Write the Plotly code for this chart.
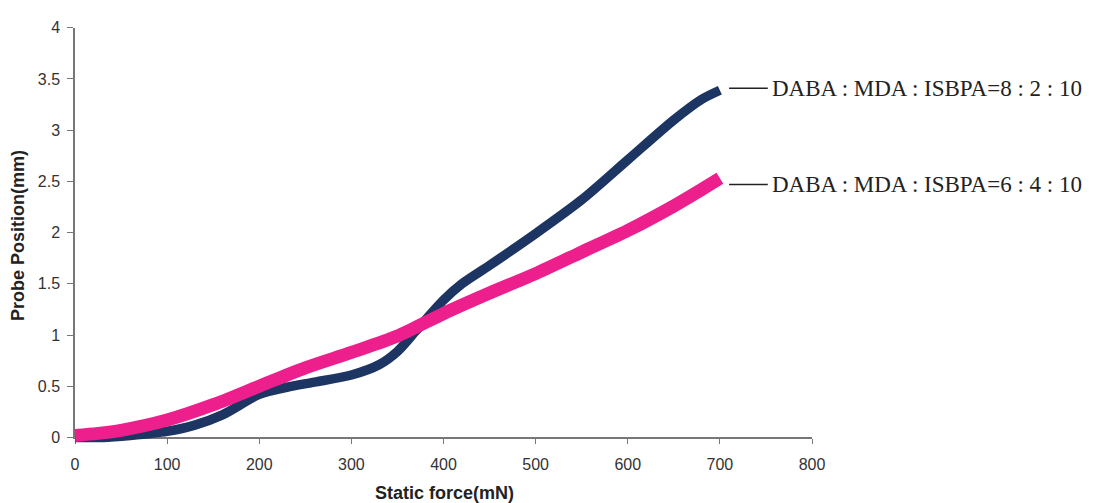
import plotly.graph_objects as go

# Static force (mN) vs probe position (mm)
force_82 = [0, 30, 60, 100, 130, 160, 200, 230, 260, 300, 330, 350, 370, 400, 420, 450, 500, 550, 600, 650, 680, 700]
pos_82 = [0.0, 0.0, 0.02, 0.06, 0.12, 0.22, 0.42, 0.49, 0.54, 0.61, 0.71, 0.84, 1.04, 1.34, 1.5, 1.68, 1.99, 2.32, 2.71, 3.1, 3.3, 3.39]

force_64 = [0, 25, 50, 100, 150, 200, 250, 300, 350, 400, 450, 500, 550, 600, 650, 680, 700]
pos_64 = [0.02, 0.04, 0.07, 0.17, 0.32, 0.5, 0.68, 0.83, 0.99, 1.21, 1.41, 1.6, 1.81, 2.02, 2.26, 2.42, 2.53]

labels = ["DABA : MDA : ISBPA=8 : 2 : 10", "DABA : MDA : ISBPA=6 : 4 : 10"]
label_y = [3.41, 2.47]

x_ticks = [0, 100, 200, 300, 400, 500, 600, 700, 800]
y_ticks = [0, 0.5, 1, 1.5, 2, 2.5, 3, 3.5, 4]
y_tick_text = ["0", "0.5", "1", "1.5", "2", "2.5", "3", "3.5", "4"]

W, H = 1094, 503
ML, MR, MT, MB = 40, 40, 5, 40
PW, PH = W - ML - MR, H - MT - MB

# plot frame in pixels
left_px, right_px, top_px, bottom_px = 75, 812, 20, 437
XMIN, XMAX, YMIN, YMAX = 0, 800, 0, 4
pad = 15  # lets thick lines overrun the axes

def xdom(px):
    return (px - ML) / PW

def ydom(py):
    return (H - MB - py) / PH

xs = (right_px - left_px) / (XMAX - XMIN)
ys = (bottom_px - top_px) / (YMAX - YMIN)

fig = go.Figure()

# empty trace so the visible axes are drawn
fig.add_trace(go.Scatter(x=[], y=[], xaxis="x", yaxis="y", showlegend=False))

fig.add_trace(go.Scatter(
    x=force_82, y=pos_82, mode="lines", xaxis="x2", yaxis="y2",
    line=dict(color="#1d3563", width=9.5, shape="spline", smoothing=0.8),
    showlegend=False, hoverinfo="skip"))
fig.add_trace(go.Scatter(
    x=force_64, y=pos_64, mode="lines", xaxis="x2", yaxis="y2",
    line=dict(color="#ec1f8d", width=13, shape="spline", smoothing=0.8),
    showlegend=False, hoverinfo="skip"))

axis_font = dict(family="Arial, Liberation Sans, sans-serif", size=16, color="#333333")

fig.update_layout(
    width=W, height=H,
    margin=dict(l=ML, r=MR, t=MT, b=MB),
    paper_bgcolor="white", plot_bgcolor="rgba(0,0,0,0)",
    xaxis=dict(domain=[xdom(left_px), xdom(right_px)], range=[XMIN, XMAX],
               tickvals=x_ticks, ticks="outside", ticklen=5, tickcolor="#777",
               showline=True, linecolor="#777", linewidth=1.5, showgrid=False,
               zeroline=False, tickfont=axis_font, ticklabelstandoff=7,
               anchor="y", fixedrange=True),
    yaxis=dict(domain=[ydom(bottom_px), ydom(top_px)], range=[YMIN, YMAX],
               tickvals=y_ticks, ticktext=y_tick_text, ticks="outside", ticklen=6,
               tickcolor="#777", showline=True, linecolor="#777", linewidth=1.5,
               showgrid=False, zeroline=False, tickfont=axis_font,
               ticklabelstandoff=4, anchor="x", fixedrange=True),
    xaxis2=dict(domain=[xdom(left_px - pad), xdom(right_px + pad)],
                range=[XMIN - pad / xs, XMAX + pad / xs], visible=False,
                anchor="y2", fixedrange=True),
    yaxis2=dict(domain=[ydom(bottom_px + pad), ydom(top_px - pad)],
                range=[YMIN - pad / ys, YMAX + pad / ys], visible=False,
                anchor="x2", fixedrange=True),
)

# series labels with leader lines
for text, yv in zip(labels, label_y):
    fig.add_shape(type="line", xref="x", yref="y", x0=710, x1=752, y0=yv, y1=yv,
                  line=dict(color="#222", width=1.5))
    fig.add_annotation(x=754, y=yv, xref="x", yref="y", text=text, showarrow=False,
                       xanchor="left", yanchor="middle",
                       font=dict(family="Liberation Serif, Times New Roman, serif",
                                 size=23, color="#222"))

title_font = dict(family="Arial, Liberation Sans, sans-serif", size=18, color="#222")
fig.add_annotation(text="<b>Static force(mN)</b>", xref="paper", yref="paper",
                   x=xdom(444), y=ydom(494), showarrow=False,
                   xanchor="center", yanchor="middle", font=title_font)
fig.add_annotation(text="<b>Probe Position(mm)</b>", xref="paper", yref="paper",
                   x=xdom(18), y=ydom(232), showarrow=False, textangle=-90,
                   xanchor="center", yanchor="middle", font=title_font)

fig.write_html("out.html")
